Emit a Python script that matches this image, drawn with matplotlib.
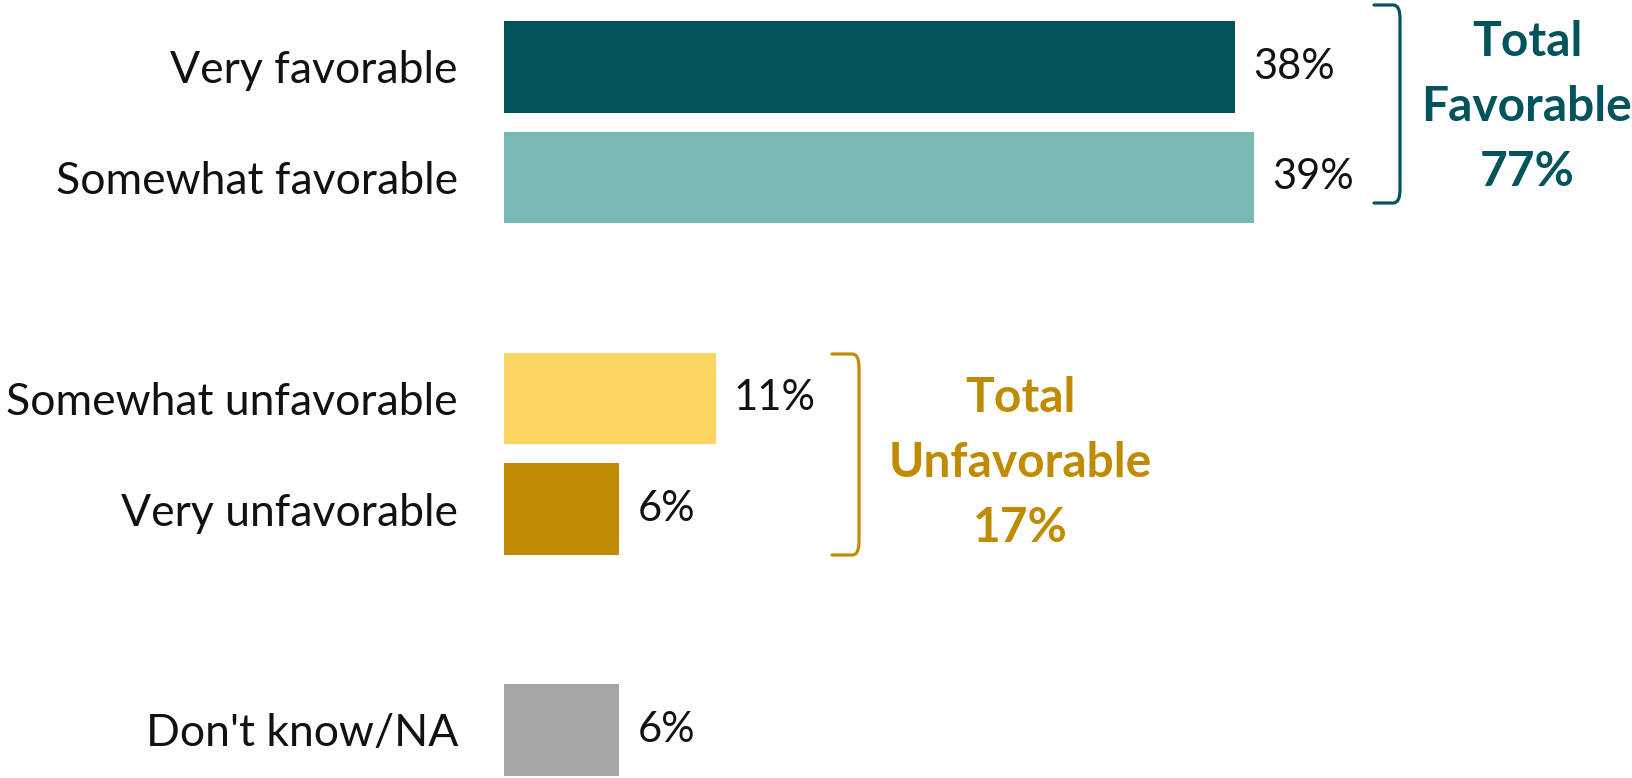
import matplotlib
matplotlib.use("Agg")
import matplotlib.pyplot as plt
from matplotlib.path import Path
from matplotlib.patches import PathPatch

categories = ["Very favorable", "Somewhat favorable", "Somewhat unfavorable",
              "Very unfavorable", "Don't know/NA"]
values = [38, 39, 11, 6, 6]
positions = [0, 1, 3, 4, 6]
colors = ["#03535C", "#76B9B5", "#FDD562", "#C08B00", "#A6A6A6"]
value_labels = ["38%", "39%", "11%", "6%", "6%"]
group_titles = ["Total\nFavorable\n77%", "Total\nUnfavorable\n17%"]
group_colors = ["#03535C", "#C08B00"]

plt.rcParams['font.family'] = ['Lato', 'DejaVu Sans']

W, H, DPI = 1633, 778, 100
fig = plt.figure(figsize=(W / DPI, H / DPI), dpi=DPI)
left_px = 504
scale = 19.24  # px per %
row = 110.5
top_c = 67
ax = fig.add_axes([left_px / W, 0, 1 - left_px / W, 1])
ax.set_xlim(0, (W - left_px) / scale)
ax.set_ylim((H - top_c) / row, -top_c / row)

ax.barh(positions, values, height=0.83, color=colors)
ax.set_yticks(positions)
ax.set_yticklabels(categories, fontsize=32, color="#111111")
ax.tick_params(axis='y', length=0, pad=46 * 72 / DPI)
ax.set_xticks([])
for s in ax.spines.values():
    s.set_visible(False)

for p, v, lab in zip(positions, values, value_labels):
    ax.text(v + 18 / scale, p, lab, va='center', ha='left', fontsize=30, color="#111111")


def bracket(x, xl, y0, y1, color, r=0.12):
    verts = [(xl, y0), (x - 0.35, y0), (x, y0), (x, y0 + r),
             (x, y1 - r), (x, y1), (x - 0.35, y1), (xl, y1)]
    codes = [Path.MOVETO, Path.LINETO, Path.CURVE3, Path.CURVE3,
             Path.LINETO, Path.CURVE3, Path.CURVE3, Path.LINETO]
    ax.add_patch(PathPatch(Path(verts, codes), fill=False, edgecolor=color,
                           lw=2.3, capstyle='round', joinstyle='round'))


def px2x(px):
    return (px - left_px) / scale


def py2y(py):
    return (py - top_c) / row


bracket(px2x(1400), px2x(1374), py2y(5), py2y(203), group_colors[0])
bracket(px2x(859), px2x(832), py2y(354), py2y(555), group_colors[1])

ax.text(px2x(1527), py2y(107), group_titles[0], ha='center', va='center',
        fontsize=34.5, fontweight='bold', color=group_colors[0], linespacing=1.58)
ax.text(px2x(1020), py2y(463), group_titles[1], ha='center', va='center',
        fontsize=34.5, fontweight='bold', color=group_colors[1], linespacing=1.58)

fig.savefig("out.png", dpi=DPI)
